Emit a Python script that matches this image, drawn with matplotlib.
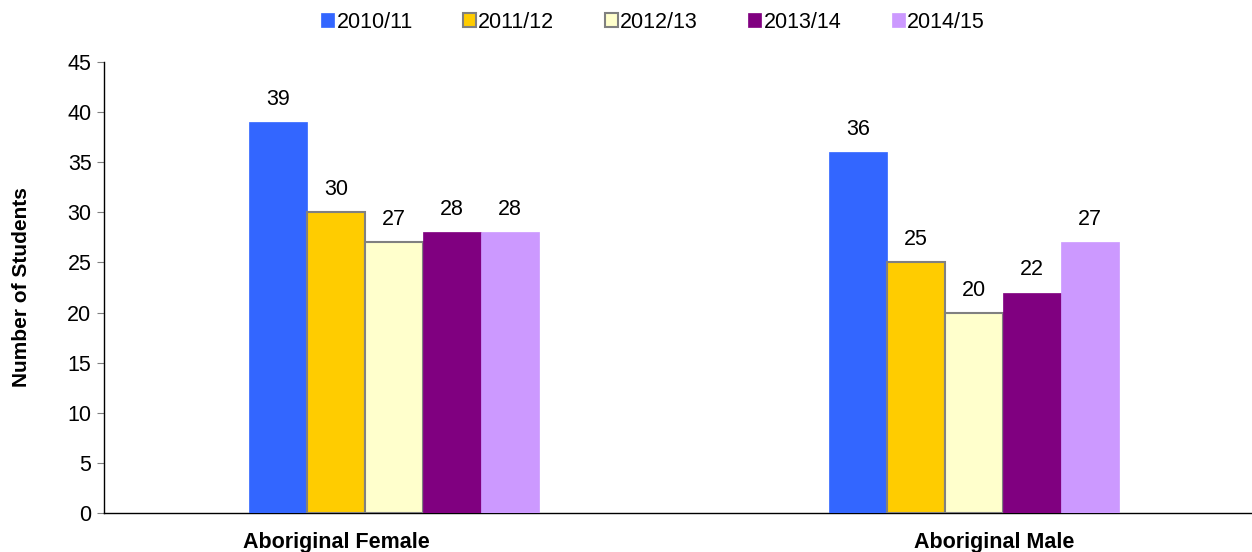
import numpy as np
import matplotlib
matplotlib.use('Agg')
import matplotlib.pyplot as plt

plt.rcParams['font.family'] = ['Liberation Sans', 'DejaVu Sans']

# data
categories = ["Aboriginal Female", "Aboriginal Male"]
years = ["2010/11", "2011/12", "2012/13", "2013/14", "2014/15"]
values = {
    "2010/11": [39, 36],
    "2011/12": [30, 25],
    "2012/13": [27, 20],
    "2013/14": [28, 22],
    "2014/15": [28, 27],
}
colors = ["#3366FF", "#FFCC00", "#FFFFCC", "#800080", "#CC99FF"]
edges = ["#3366FF", "#808080", "#808080", "#800080", "#CC99FF"]

fig = plt.figure(figsize=(12.52, 5.52), dpi=100)
ax = fig.add_axes([104 / 1252, 1 - 513 / 552, 1148 / 1252, 451 / 552])

x = np.arange(len(categories))
width = 0.1
for i, yr in enumerate(years):
    pos = x + (i - 2) * width
    lw = 1.5 if edges[i] == "#808080" else 0.5
    bars = ax.bar(pos, values[yr], width, color=colors[i], edgecolor=edges[i],
                  linewidth=lw, label=yr, zorder=3)
    for b, v in zip(bars, values[yr]):
        ax.text(b.get_x() + b.get_width() / 2, v + 1.2, str(v), ha='center',
                va='bottom', fontsize=15.5)

ax.set_xlim(-0.5, 1.48)
ax.set_ylim(0, 45)
ax.set_yticks(range(0, 46, 5))
ax.tick_params(axis='y', labelsize=15.5, length=5, color='#808080', pad=4)
ax.set_xticks([-0.1, 1.036])
ax.set_xticklabels(categories, fontsize=15.5, fontweight='bold')
ax.tick_params(axis='x', length=0, pad=14)
for s in ['top', 'right']:
    ax.spines[s].set_visible(False)
ax.spines['left'].set_linewidth(1)
ax.spines['bottom'].set_linewidth(1)
ax.set_ylabel("Number of Students", fontsize=15, fontweight='bold', labelpad=26)

leg = fig.legend(loc='center', bbox_to_anchor=(653 / 1252, 1 - 22 / 552), ncol=5,
                 frameon=False, fontsize=15.5, handlelength=0.6, handleheight=0.6,
                 handletextpad=0.1, columnspacing=2.35)

plt.savefig("out.png", dpi=100)
